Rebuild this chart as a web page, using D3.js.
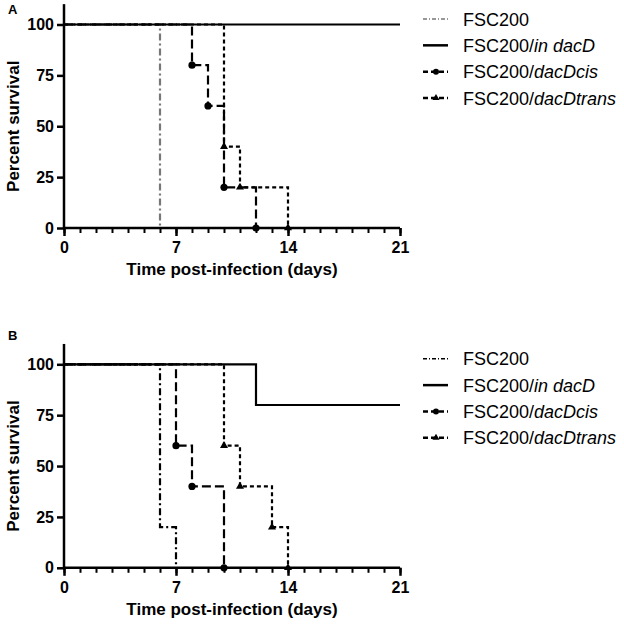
<!DOCTYPE html>
<html>
<head>
<meta charset="utf-8">
<script src="https://cdn.jsdelivr.net/npm/d3@7"></script>
<style>
  body { margin: 0; background: #fff; }
  svg { font-family: "Liberation Sans", Arial, sans-serif; }
</style>
</head>
<body>
<div id="viz"></div>
<script>
const width = 624;
const height = 625;

// Survival steps [day, percent]
const seriesNames = ["FSC200", "FSC200/in dacD", "FSC200/dacDcis", "FSC200/dacDtrans"];
const xTicks = [0, 7, 14, 21];
const yTicks = [0, 25, 50, 75, 100];

const panelA_wt    = [[0, 100], [6, 0]];
const panelA_in    = [[0, 100], [21, 100]];
const panelA_cis   = [[0, 100], [8, 80], [9, 60], [10, 20], [12, 0]];
const panelA_trans = [[0, 100], [10, 40], [11, 20], [14, 0]];

const panelB_wt    = [[0, 100], [6, 20], [7, 0]];
const panelB_in    = [[0, 100], [12, 80], [21, 80]];
const panelB_cis   = [[0, 100], [7, 60], [8, 40], [10, 0]];
const panelB_trans = [[0, 100], [10, 60], [11, 40], [13, 20], [14, 0]];

const svg = d3.select("#viz")
  .append("svg")
  .attr("width", width)
  .attr("height", height);

// line styles per series
const styles = [
  { dash: "7,3,2,3", marker: null },
  { dash: null, marker: null },
  { dash: "9,4", marker: "circle" },
  { dash: "4,3", marker: "triangle" }
];

function drawPanel(label, top, labelY, series, wtColor) {
  const x = d3.scaleLinear().domain([0, 21]).range([64, 400]);
  const y = d3.scaleLinear().domain([0, 100]).range([top + 203.5, top]);
  const g = svg.append("g");

  g.append("text")
    .attr("x", 8).attr("y", labelY)
    .attr("font-size", 13).attr("font-weight", "bold")
    .text(label);

  // minor day ticks
  const xAxis = d3.axisBottom(x).tickValues(d3.range(0, 22)).tickSize(5).tickFormat("");
  g.append("g").attr("transform", `translate(0,${y(0)})`).call(xAxis)
    .call(a => a.selectAll("line").attr("stroke-width", 2))
    .call(a => a.select(".domain").remove());
  const xMajor = d3.axisBottom(x).tickValues(xTicks).tickSize(8).tickPadding(6);
  g.append("g").attr("transform", `translate(0,${y(0)})`).call(xMajor)
    .call(a => a.selectAll("line").attr("stroke-width", 2.5))
    .call(a => a.select(".domain").remove())
    .call(a => a.selectAll("text").attr("font-size", 16).attr("font-weight", "bold")
      .attr("font-family", "Liberation Sans, Arial, sans-serif").attr("fill", "#000"));
  g.append("line")
    .attr("x1", x(0) - 1).attr("x2", x(21))
    .attr("y1", y(0)).attr("y2", y(0))
    .attr("stroke", "#000").attr("stroke-width", 2.5);

  const yAxis = d3.axisLeft(y).tickValues(yTicks).tickSize(7).tickPadding(3);
  g.append("g").attr("transform", `translate(${x(0)},0)`).call(yAxis)
    .call(a => a.selectAll("line").attr("stroke-width", 2.5))
    .call(a => a.select(".domain").remove())
    .call(a => a.selectAll("text").attr("font-size", 16).attr("font-weight", "bold")
      .attr("font-family", "Liberation Sans, Arial, sans-serif").attr("fill", "#000"));
  g.append("line")
    .attr("x1", x(0)).attr("x2", x(0))
    .attr("y1", y(110)).attr("y2", y(0) + 1)
    .attr("stroke", "#000").attr("stroke-width", 2.5);

  g.append("text")
    .attr("x", (x(0) + x(21)) / 2).attr("y", y(0) + 47)
    .attr("text-anchor", "middle")
    .attr("font-size", 17).attr("font-weight", "bold")
    .text("Time post-infection (days)");
  g.append("text")
    .attr("transform", `translate(19,${y(50)}) rotate(-90)`)
    .attr("text-anchor", "middle")
    .attr("font-size", 17).attr("font-weight", "bold")
    .text("Percent survival");

  const line = d3.line().x(d => x(d[0])).y(d => y(d[1])).curve(d3.curveStepAfter);

  series.forEach((data, i) => {
    const st = styles[i];
    g.append("path")
      .datum(data)
      .attr("d", line)
      .attr("fill", "none")
      .attr("stroke", i === 0 ? wtColor : "#000")
      .attr("stroke-width", 2.2)
      .attr("stroke-dasharray", st.dash);
    const pts = data.slice(1);
    if (st.marker === "circle") {
      g.selectAll(null).data(pts).join("circle")
        .attr("cx", d => x(d[0])).attr("cy", d => y(d[1])).attr("r", 3.6);
    } else if (st.marker === "triangle") {
      g.selectAll(null).data(pts).join("path")
        .attr("d", d3.symbol(d3.symbolTriangle, 28))
        .attr("transform", d => `translate(${x(d[0])},${y(d[1])})`);
    }
  });

  // legend
  const ly = d3.scaleLinear().domain([0, 3]).range([top - 5.5, top + 73.5]);
  seriesNames.forEach((name, i) => {
    const st = styles[i];
    const yy = ly(i);
    g.append("line")
      .attr("x1", 423).attr("x2", 448).attr("y1", yy).attr("y2", yy)
      .attr("stroke", i === 0 ? wtColor : "#000")
      .attr("stroke-width", i === 0 ? 1.5 : 2.5)
      .attr("stroke-dasharray", i === 0 ? "4,2,1,2" : (i === 1 ? null : "5,3"));
    if (st.marker === "circle") {
      g.append("circle").attr("cx", 436).attr("cy", yy).attr("r", 3);
    } else if (st.marker === "triangle") {
      g.append("path").attr("d", d3.symbol(d3.symbolTriangle, 22))
        .attr("transform", `translate(436,${yy})`);
    }
    const parts = name.split("/");
    const t = g.append("text").attr("x", 463).attr("y", yy + 6.5).attr("font-size", 18);
    t.append("tspan").text(parts[0] + "/");
    t.append("tspan").attr("font-style", "italic").text(parts[1]);
    if (i === 0) t.text(name);
  });
}

drawPanel("A", 24.5, 14, [panelA_wt, panelA_in, panelA_cis, panelA_trans], "#777");
drawPanel("B", 364.3, 340, [panelB_wt, panelB_in, panelB_cis, panelB_trans], "#000");
</script>
</body>
</html>
